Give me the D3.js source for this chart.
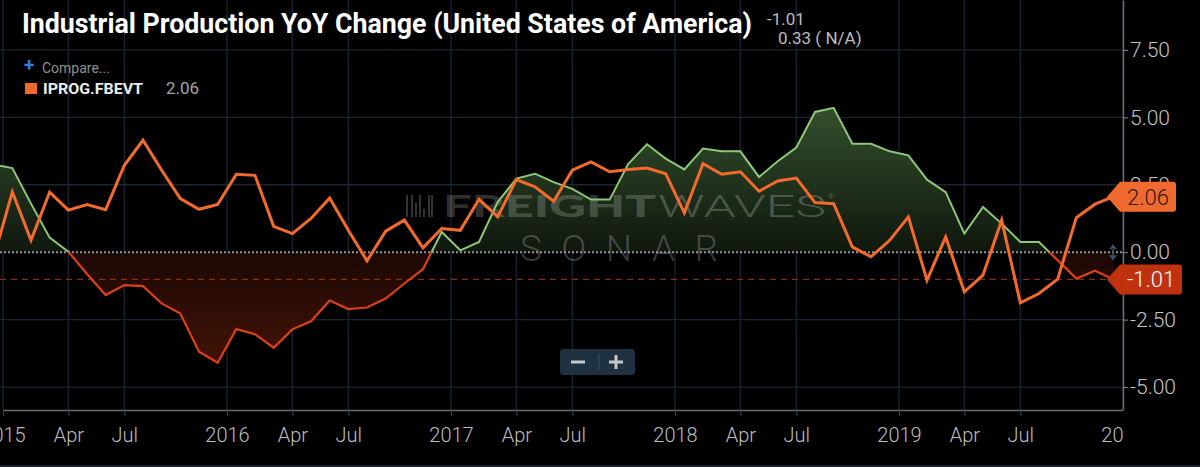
<!DOCTYPE html>
<html>
<head>
<meta charset="utf-8">
<script src="https://cdn.jsdelivr.net/npm/d3@7"></script>
<style>
html, body { margin: 0; padding: 0; background: #000; overflow: hidden; }
svg { display: block; font-family: Roboto, "Noto Sans", sans-serif; }
</style>
</head>
<body>
<div id="chart"></div>
<script>
// Chart size
const W = 1200, H = 467;
const plotRight = 1123, plotBottom = 410;

// Monthly values, Dec 2014 -> Dec 2019 (index -1 .. 59, 0 = Jan 2015)
const firstMonthIndex = -1;
const ipYoY = [
    3.25,
    3.12, 1.80, 0.54, 0.02, -0.81, -1.59, -1.22, -1.26, -1.90, -2.27, -3.69, -4.10,
    -2.85, -3.04, -3.54, -2.86, -2.56, -1.79, -2.11, -2.05, -1.72, -1.16, -0.63, 0.75,
    0.07, 0.38, 1.86, 2.73, 2.91, 2.60, 2.35, 1.95, 1.95, 3.28, 4.00, 3.47,
    3.07, 3.84, 3.74, 3.74, 2.79, 3.37, 3.88, 5.20, 5.35, 4.02, 4.02, 3.74,
    3.59, 2.69, 2.23, 0.69, 1.68, 1.06, 0.38, 0.38, -0.30, -0.98, -0.69, -1.01
];
const fbevt = [
    -0.20,
    2.23, 0.44, 2.23, 1.56, 1.77, 1.58, 3.22, 4.15, 3.04, 1.99, 1.59, 1.77,
    2.89, 2.85, 0.96, 0.69, 1.25, 2.01, 0.81, -0.32, 0.78, 1.19, 0.16, 0.88,
    0.81, 1.96, 1.31, 2.69, 2.42, 1.89, 3.04, 3.35, 2.98, 3.07, 3.12, 2.91,
    1.46, 3.28, 2.89, 2.98, 2.26, 2.64, 2.75, 1.84, 1.80, 0.20, -0.17, 0.44,
    1.31, -1.04, 0.57, -1.47, -0.85, 1.19, -1.88, -1.53, -1.00, 1.28, 1.78, 2.06
];

// Axis ticks
const xTickIdx = [-0.5, 3, 6, 11.5, 15, 18, 23.5, 27, 30, 35.5, 39, 42, 47.5, 51, 54, 59.5];
const xTickLabels = ["2015", "Apr", "Jul", "2016", "Apr", "Jul", "2017", "Apr", "Jul",
                     "2018", "Apr", "Jul", "2019", "Apr", "Jul", "2020"];
const yTicks = [-5, -2.5, 0, 2.5, 5, 7.5];
const yTickLabels = ["-5.00", "-2.50", "0.00", "2.50", "5.00", "7.50"];

const mainLast = -1.01, mainChange = "0.33 ( N/A)";
const compareName = "IPROG.FBEVT", compareLast = 2.06;

const toPoints = arr => arr.map((v, k) => ({ i: k + firstMonthIndex, v }));
const mainPts = toPoints(ipYoY);
const cmpPts = toPoints(fbevt);

const x = d3.scaleLinear().domain([-0.5, 59.5]).range([3, plotRight]);
const y = d3.scaleLinear().domain([-5.85, 9.35]).range([plotBottom, 0]);
const y0 = y(0);

const svg = d3.select("#chart")
    .append("svg")
    .attr("width", W)
    .attr("height", H);

svg.append("rect").attr("width", W).attr("height", H).attr("fill", "#000");
svg.append("rect").attr("y", 465).attr("width", W).attr("height", 2).attr("fill", "#18202a");

const defs = svg.append("defs");
defs.append("clipPath").attr("id", "clipPlot")
    .append("rect").attr("x", 0).attr("y", 0).attr("width", plotRight).attr("height", plotBottom);
defs.append("clipPath").attr("id", "clipPos")
    .append("rect").attr("x", 0).attr("y", 0).attr("width", plotRight).attr("height", y0);
defs.append("clipPath").attr("id", "clipNeg")
    .append("rect").attr("x", 0).attr("y", y0).attr("width", plotRight).attr("height", plotBottom - y0);
defs.append("clipPath").attr("id", "clipXLabels")
    .append("rect").attr("x", 0).attr("y", 0).attr("width", plotRight).attr("height", H);

const gGreen = defs.append("linearGradient").attr("id", "gGreen")
    .attr("gradientUnits", "userSpaceOnUse")
    .attr("x1", 0).attr("x2", 0).attr("y1", y(5.4)).attr("y2", y0);
gGreen.append("stop").attr("offset", 0).attr("stop-color", "#34502d");
gGreen.append("stop").attr("offset", 1).attr("stop-color", "#0f170d");

const gRed = defs.append("linearGradient").attr("id", "gRed")
    .attr("gradientUnits", "userSpaceOnUse")
    .attr("x1", 0).attr("x2", 0).attr("y1", y0).attr("y2", y(-4.1));
gRed.append("stop").attr("offset", 0).attr("stop-color", "#1c0804");
gRed.append("stop").attr("offset", 1).attr("stop-color", "#421307");

// Grid
const grid = svg.append("g").attr("stroke", "#1b2531").attr("stroke-width", 1.3);
grid.selectAll(".vg")
    .data(xTickIdx)
    .enter()
    .append("line")
    .attr("x1", d => x(d)).attr("x2", d => x(d))
    .attr("y1", 0).attr("y2", plotBottom);
grid.selectAll(".hg")
    .data(yTicks.filter(d => d !== 0))
    .enter()
    .append("line")
    .attr("x1", 0).attr("x2", plotRight)
    .attr("y1", d => y(d)).attr("y2", d => y(d));

// Areas of the main series
const area = d3.area().x(d => x(d.i)).y0(y0).y1(d => y(d.v));
const line = d3.line().x(d => x(d.i)).y(d => y(d.v));

svg.append("path").datum(mainPts)
    .attr("clip-path", "url(#clipPos)")
    .attr("fill", "url(#gGreen)")
    .attr("d", area);
svg.append("path").datum(mainPts)
    .attr("clip-path", "url(#clipNeg)")
    .attr("fill", "url(#gRed)")
    .attr("d", area);

// Watermark
const wm = svg.append("g").attr("pointer-events", "none");
const barsX = [406, 411, 415, 419, 423, 428, 431];
const barsH = [22, 22, 14, 22, 8, 22, 22];
wm.selectAll("rect")
    .data(barsX)
    .enter()
    .append("rect")
    .attr("x", d => d)
    .attr("y", (d, i) => 217 - barsH[i])
    .attr("width", 2)
    .attr("height", (d, i) => barsH[i])
    .attr("fill", "rgba(255,255,255,0.2)");
wm.append("text")
    .attr("x", 443).attr("y", 217)
    .attr("font-family", "Lato, Roboto, sans-serif")
    .attr("font-weight", 900)
    .attr("font-size", 31)
    .attr("textLength", 213)
    .attr("lengthAdjust", "spacingAndGlyphs")
    .attr("fill", "rgba(255,255,255,0.21)")
    .text("FREIGHT");
wm.append("text")
    .attr("x", 658).attr("y", 217)
    .attr("font-weight", 300)
    .attr("font-size", 31)
    .attr("textLength", 168)
    .attr("lengthAdjust", "spacingAndGlyphs")
    .attr("fill", "rgba(255,255,255,0.22)")
    .text("WAVES");
wm.append("text")
    .attr("x", 828).attr("y", 199)
    .attr("font-size", 7)
    .attr("fill", "rgba(255,255,255,0.24)")
    .text("®");
wm.append("text")
    .attr("x", 520).attr("y", 261)
    .attr("font-weight", 300)
    .attr("font-size", 37)
    .attr("textLength", 198)
    .attr("lengthAdjust", "spacing")
    .attr("fill", "rgba(255,255,255,0.22)")
    .text("SONAR");

// Reference lines
svg.append("line")
    .attr("x1", 0).attr("x2", plotRight)
    .attr("y1", y(mainLast)).attr("y2", y(mainLast))
    .attr("stroke", "#8c2a12")
    .attr("stroke-width", 1.3)
    .attr("stroke-dasharray", "6,5");
svg.append("line")
    .attr("x1", 0).attr("x2", plotRight)
    .attr("y1", y0).attr("y2", y0)
    .attr("stroke", "#8e969c")
    .attr("stroke-width", 2)
    .attr("stroke-dasharray", "2,2");

// Lines
svg.append("path").datum(mainPts)
    .attr("clip-path", "url(#clipPos)")
    .attr("fill", "none")
    .attr("stroke", "#8cc878")
    .attr("stroke-width", 2)
    .attr("d", line);
svg.append("path").datum(mainPts)
    .attr("clip-path", "url(#clipNeg)")
    .attr("fill", "none")
    .attr("stroke", "#dc4016")
    .attr("stroke-width", 2.2)
    .attr("d", line);
svg.append("path").datum(cmpPts)
    .attr("clip-path", "url(#clipPlot)")
    .attr("fill", "none")
    .attr("stroke", "#f36b2c")
    .attr("stroke-width", 3)
    .attr("stroke-linejoin", "miter")
    .attr("d", line);

// Axes
const xAxis = d3.axisBottom(x)
    .tickValues(xTickIdx)
    .tickFormat((d, i) => xTickLabels[i])
    .tickSize(6)
    .tickSizeOuter(0)
    .tickPadding(12);
const gx = svg.append("g").attr("clip-path", "url(#clipXLabels)")
    .append("g")
    .attr("transform", `translate(0,${plotBottom})`)
    .call(xAxis);
gx.select(".domain").attr("stroke", "#6c6c6c").attr("stroke-width", 1.5);
gx.selectAll(".tick line").attr("stroke", "#3a4550");
gx.selectAll(".tick text")
    .attr("fill", "#bdbdbd")
    .style("font-size", "20px")
    .style("font-weight", 300)
    .style("font-family", "Roboto, sans-serif");

const yAxis = d3.axisRight(y)
    .tickValues(yTicks)
    .tickFormat((d, i) => yTickLabels[i])
    .tickSize(5)
    .tickSizeOuter(0)
    .tickPadding(2);
const gy = svg.append("g")
    .attr("transform", `translate(${plotRight},0)`)
    .call(yAxis);
gy.select(".domain").attr("stroke", "#6c6c6c").attr("stroke-width", 1.5);
gy.selectAll(".tick line").attr("stroke", "#8a8a8a");
gy.selectAll(".tick text")
    .attr("fill", "#c4c4c4")
    .style("font-size", "21px")
    .style("font-weight", 300)
    .style("font-family", "Roboto, sans-serif");

// Drag handle on the zero line
svg.append("path")
    .attr("d", `M1113,${y0 - 8} l-4,5 h8 z M1113,${y0 + 8} l-4,-5 h8 z M1112.3,${y0 - 4} h1.4 v8 h-1.4 z`)
    .attr("fill", "#3d5467");

// Last-value flags
function flag(value, fill, textColor, wBox) {
    const yy = y(value);
    const g = svg.append("g");
    g.append("path")
        .attr("d", `M1107,${yy} L1120,${yy - 15} H${1120 + wBox - 3} Q${1120 + wBox},${yy - 15} ${1120 + wBox},${yy - 12}` +
                   ` V${yy + 12} Q${1120 + wBox},${yy + 15} ${1120 + wBox - 3},${yy + 15} H1120 Z`)
        .attr("fill", fill);
    g.append("text")
        .attr("x", 1127).attr("y", yy + 8)
        .attr("fill", textColor)
        .style("font-size", "22px")
        .style("font-weight", 300)
        .text(value.toFixed(2));
}
flag(compareLast, "#f06a30", "#2b1a10", 56);
flag(mainLast, "#c0320f", "#ffffff", 62);

// Title and legend
svg.append("text")
    .attr("x", 22).attr("y", 33)
    .attr("fill", "#ffffff")
    .attr("font-weight", 700)
    .attr("font-size", 27.5)
    .attr("textLength", 730)
    .attr("lengthAdjust", "spacingAndGlyphs")
    .text("Industrial Production YoY Change (United States of America)");
svg.append("text")
    .attr("x", 767).attr("y", 25)
    .attr("fill", "#bdbdbd")
    .attr("font-size", 17)
    .text(mainLast.toFixed(2));
svg.append("text")
    .attr("x", 778).attr("y", 44)
    .attr("fill", "#bdbdbd")
    .attr("font-size", 17)
    .text(mainChange);

svg.append("text")
    .attr("x", 24).attr("y", 71)
    .attr("fill", "#2d7fe6")
    .attr("font-size", 19)
    .attr("font-weight", 700)
    .text("+");
svg.append("text")
    .attr("x", 42).attr("y", 73)
    .attr("fill", "#8f8f8f")
    .attr("font-size", 14)
    .text("Compare...");
svg.append("rect")
    .attr("x", 25).attr("y", 83).attr("width", 12).attr("height", 11)
    .attr("fill", "#f06a30");
svg.append("text")
    .attr("x", 43).attr("y", 94)
    .attr("fill", "#ececec")
    .attr("font-size", 15)
    .attr("font-weight", 700)
    .attr("textLength", 100)
    .attr("lengthAdjust", "spacingAndGlyphs")
    .text(compareName);
svg.append("text")
    .attr("x", 166).attr("y", 94)
    .attr("fill", "#a4a4a4")
    .attr("font-size", 17)
    .text(compareLast.toFixed(2));

// Zoom buttons
const zb = svg.append("g");
zb.append("rect")
    .attr("x", 560).attr("y", 349).attr("width", 75).attr("height", 26).attr("rx", 4)
    .attr("fill", "#1f3242");
zb.append("line")
    .attr("x1", 599).attr("x2", 599).attr("y1", 354).attr("y2", 370)
    .attr("stroke", "#3b5264");
zb.append("rect").attr("x", 571).attr("y", 360.5).attr("width", 14).attr("height", 3).attr("fill", "#c8c8c8");
zb.append("rect").attr("x", 609).attr("y", 360.5).attr("width", 14).attr("height", 3).attr("fill", "#c8c8c8");
zb.append("rect").attr("x", 614.5).attr("y", 355).attr("width", 3).attr("height", 14).attr("fill", "#c8c8c8");
</script>
</body>
</html>
